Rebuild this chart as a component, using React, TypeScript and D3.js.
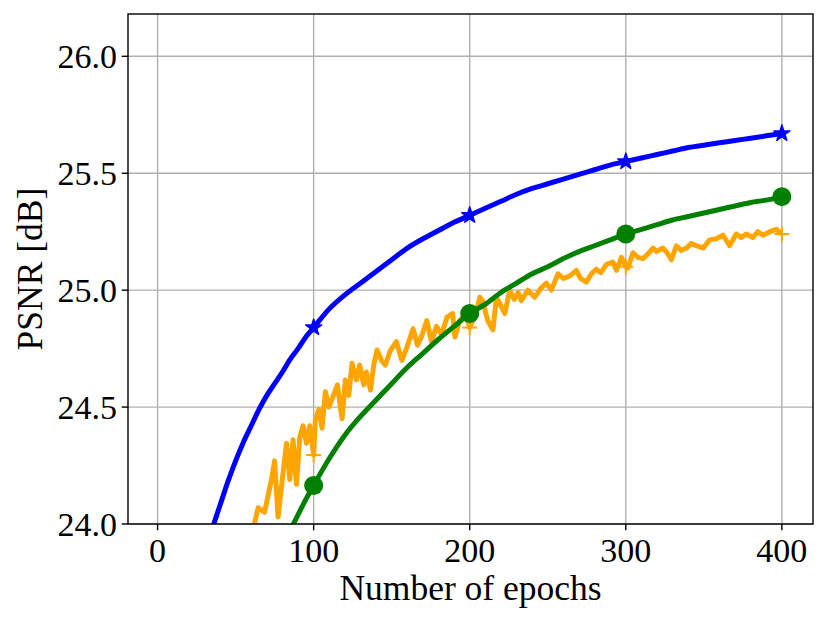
import React from 'react';
import * as d3 from 'd3';

type Pt = [number, number];

const xTicks = [0, 100, 200, 300, 400];
const yTicks = [24.0, 24.5, 25.0, 25.5, 26.0];
const markerEpochs = [100, 200, 300, 400];
const xLabel = 'Number of epochs';
const yLabel = 'PSNR [dB]';

const blueSeries: Pt[] = [
  [31, 23.9], [36, 24.0], [40, 24.08], [45, 24.18], [50, 24.27], [55, 24.35], [60, 24.42],
  [65, 24.49], [70, 24.55], [75, 24.6], [80, 24.65], [85, 24.705], [90, 24.75], [95, 24.8],
  [100, 24.84], [110, 24.92], [120, 24.98], [130, 25.03], [140, 25.08], [150, 25.13],
  [160, 25.18], [170, 25.22], [180, 25.255], [190, 25.29], [200, 25.32], [210, 25.35],
  [220, 25.38], [230, 25.41], [240, 25.435], [250, 25.455], [260, 25.475], [270, 25.495],
  [280, 25.515], [290, 25.535], [300, 25.55], [310, 25.565], [320, 25.58], [330, 25.595],
  [340, 25.61], [350, 25.62], [360, 25.63], [370, 25.64], [380, 25.65], [390, 25.66], [400, 25.67],
];

const greenSeries: Pt[] = [
  [80, 23.9], [87, 24.0], [90, 24.04], [95, 24.105], [100, 24.165], [110, 24.28], [120, 24.38],
  [130, 24.46], [140, 24.53], [150, 24.6], [160, 24.67], [170, 24.73], [180, 24.79],
  [190, 24.845], [200, 24.9], [210, 24.94], [220, 24.99], [230, 25.03], [240, 25.07],
  [250, 25.1], [260, 25.135], [270, 25.165], [280, 25.19], [290, 25.215], [300, 25.24],
  [310, 25.26], [320, 25.28], [330, 25.3], [340, 25.315], [350, 25.33], [360, 25.345],
  [370, 25.36], [380, 25.375], [390, 25.385], [400, 25.4],
];

const orangeSeries: Pt[] = [
  [60, 23.93], [62, 24.0], [64.5, 24.07], [68.5, 24.05], [73, 24.19], [75, 24.27], [77.2, 24.03],
  [79.4, 24.16], [82.6, 24.345], [84.7, 24.19], [86.8, 24.36], [89, 24.17], [91.1, 24.37],
  [93.2, 24.42], [95.4, 24.345], [97.5, 24.42], [100, 24.295], [101.1, 24.445], [103.3, 24.49],
  [105.4, 24.41], [107.5, 24.566], [109.7, 24.5], [112.4, 24.545], [115.2, 24.595], [118.2, 24.45],
  [120.3, 24.616], [122.5, 24.55], [124.6, 24.687], [127.4, 24.616], [129.5, 24.68], [132.1, 24.595],
  [133.8, 24.65], [136.4, 24.573], [138.5, 24.68], [140.6, 24.744], [143.4, 24.7], [146, 24.68],
  [149, 24.74], [153, 24.78], [156.5, 24.7], [160, 24.76], [163.7, 24.835], [166.5, 24.765],
  [169, 24.8], [172.5, 24.87], [175.5, 24.78], [178.7, 24.845], [182, 24.81], [185.5, 24.885],
  [189, 24.9], [190.5, 24.8], [193.6, 24.87], [197.5, 24.9], [200, 24.84], [204, 24.9],
  [206.5, 24.97], [208.5, 24.95], [211.5, 24.87], [214.9, 24.83], [217.1, 24.97], [219.5, 24.94],
  [222.5, 24.9], [225.6, 25.0], [228.5, 24.96], [231, 24.99], [233, 24.955], [237.3, 25.0],
  [241.6, 24.97], [245.9, 25.01], [249.1, 25.03], [252.3, 25.0], [256.6, 25.07], [260, 25.05],
  [264, 25.06], [268.3, 25.085], [271, 25.05], [274.8, 25.035], [278, 25.07], [281.2, 25.09],
  [284, 25.075], [287.6, 25.11], [291.8, 25.12], [294, 25.085], [297.2, 25.14], [300, 25.1],
  [301.4, 25.095], [304.6, 25.16], [307.8, 25.14], [311, 25.135], [314.2, 25.155], [317.4, 25.18],
  [319.6, 25.165], [323.8, 25.18], [326.5, 25.16], [329.2, 25.13], [332.4, 25.19], [335.5, 25.17],
  [338.8, 25.18], [342, 25.2], [345.2, 25.19], [349.5, 25.18], [353.7, 25.215], [358, 25.22],
  [362.3, 25.235], [366.5, 25.19], [370.8, 25.24], [374, 25.225], [377.2, 25.24], [381.5, 25.225],
  [384.5, 25.25], [387.9, 25.235], [392.2, 25.25], [396.5, 25.26], [400, 25.24],
];

const BLUE = '#0000ff';
const GREEN = '#008000';
const ORANGE = '#ffa500';

export default function App() {
  const W = 829;
  const H = 622;
  const left = 128, right = 813, top = 14, bottom = 524;
  const x = d3.scaleLinear().domain([-18.95, 419.95]).range([left, right]);
  const y = d3.scaleLinear().domain([24, 26.181]).range([bottom, top]);
  const smooth = d3.line<Pt>().x(d => x(d[0])).y(d => y(d[1])).curve(d3.curveMonotoneX);
  const jagged = d3.line<Pt>().x(d => x(d[0])).y(d => y(d[1]));
  const star = d3.symbol().type(d3.symbolStar).size(80)() as string;
  const font = "'Liberation Serif', 'Times New Roman', serif";
  const at = (s: Pt[], e: number) => s.find(d => d[0] === e) as Pt;

  return (
    <svg width={W} height={H} style={{ position: 'absolute', left: 0, top: 0, background: '#fff' }}>
      <defs>
        <clipPath id="plotClip">
          <rect x={left} y={top} width={right - left} height={bottom - top} />
        </clipPath>
      </defs>
      <rect x={0} y={0} width={W} height={H} fill="#fff" />
      <g stroke="#b0b0b0" strokeWidth={1.4}>
        {xTicks.map(t => <line key={'gx' + t} x1={x(t)} x2={x(t)} y1={top} y2={bottom} />)}
        {yTicks.map(t => <line key={'gy' + t} x1={left} x2={right} y1={y(t)} y2={y(t)} />)}
      </g>
      <g clipPath="url(#plotClip)">
        <path d={jagged(orangeSeries) as string} fill="none" stroke={ORANGE} strokeWidth={5} strokeLinejoin="round" />
        <path d={smooth(greenSeries) as string} fill="none" stroke={GREEN} strokeWidth={5} strokeLinejoin="round" />
        <path d={smooth(blueSeries) as string} fill="none" stroke={BLUE} strokeWidth={5} strokeLinejoin="round" />
        {markerEpochs.map(e => {
          const p = at(orangeSeries, e);
          return (
            <g key={'o' + e} transform={`translate(${x(p[0])},${y(p[1])})`} stroke={ORANGE} strokeWidth={2}>
              <line x1={-7.5} x2={7.5} y1={0} y2={0} />
              <line x1={0} x2={0} y1={-7.5} y2={7.5} />
            </g>
          );
        })}
        {markerEpochs.map(e => {
          const p = at(greenSeries, e);
          return <circle key={'g' + e} cx={x(p[0])} cy={y(p[1])} r={9.5} fill={GREEN} />;
        })}
        {markerEpochs.map(e => {
          const p = at(blueSeries, e);
          return <path key={'b' + e} d={star} transform={`translate(${x(p[0])},${y(p[1])})`} fill={BLUE} stroke={BLUE} strokeWidth={1.5} strokeLinejoin="round" />;
        })}
      </g>
      <rect x={left} y={top} width={right - left} height={bottom - top} fill="none" stroke="#000" strokeWidth={1.4} />
      <g stroke="#000" strokeWidth={1.4}>
        {xTicks.map(t => <line key={'tx' + t} x1={x(t)} x2={x(t)} y1={bottom} y2={bottom + 6.3} />)}
        {yTicks.map(t => <line key={'ty' + t} x1={left - 6.3} x2={left} y1={y(t)} y2={y(t)} />)}
      </g>
      <g fontFamily={font} fontSize={34} fill="#000">
        {xTicks.map(t => (
          <text key={'lx' + t} x={x(t)} y={562} textAnchor="middle">{String(t)}</text>
        ))}
        {yTicks.map(t => (
          <text key={'ly' + t} x={117} y={y(t) + 11.5} textAnchor="end">{t.toFixed(1)}</text>
        ))}
      </g>
      <text x={(left + right) / 2} y={600} textAnchor="middle" fontFamily={font} fontSize={35.5}>{xLabel}</text>
      <text transform={`translate(42,${(top + bottom) / 2}) rotate(-90)`} textAnchor="middle" fontFamily={font} fontSize={35.5}>{yLabel}</text>
    </svg>
  );
}
